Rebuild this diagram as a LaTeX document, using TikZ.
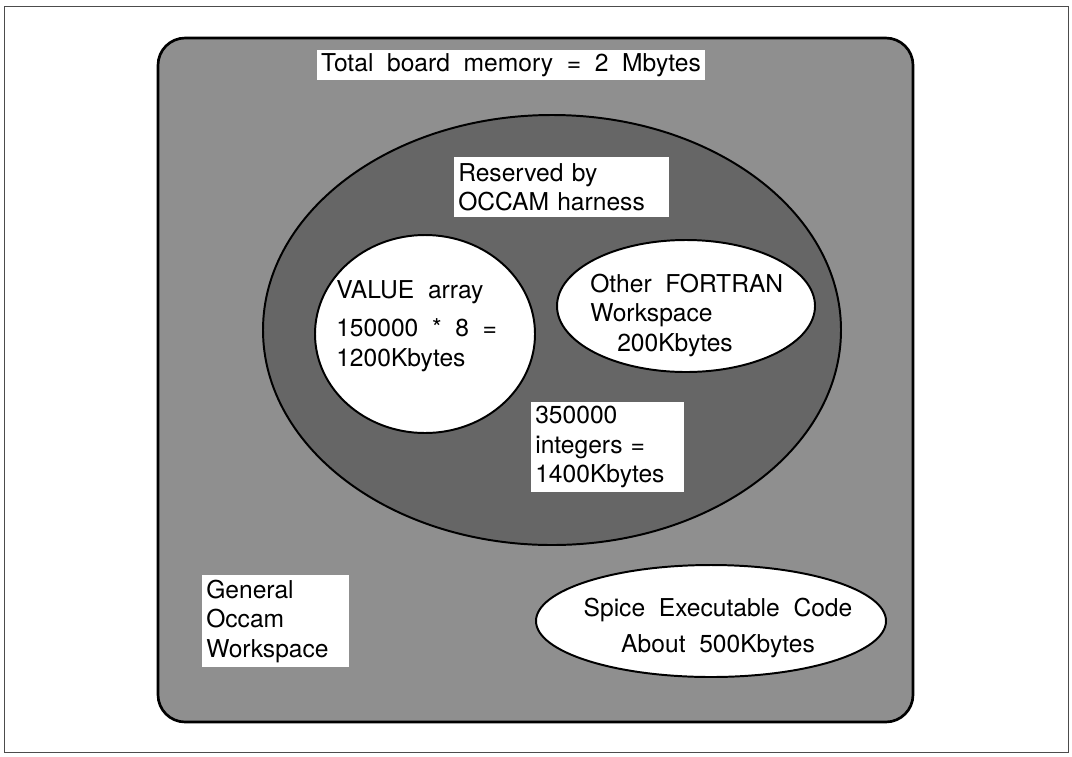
\documentclass[tikz,border=0pt]{standalone}
\usepackage{fontspec}
\setmainfont{TeX Gyre Heros}[WordSpace=2]
\usetikzlibrary{shapes.geometric,positioning}

\begin{document}
\begin{tikzpicture}[
  font=\fontsize{17.5}{21}\selectfont,
  outerframe/.style={draw=black!70,line width=0.6pt,minimum width=26.62cm,minimum height=18.65cm},
  board/.style={draw=black,line width=1.9pt,rounded corners=0.68cm,fill=black!44,minimum width=18.875cm,minimum height=17.1cm},
  region/.style={ellipse,draw=black,line width=1.4pt,inner sep=0pt},
  labelbox/.style={fill=white,inner xsep=0.1cm,inner ysep=0pt,align=left},
  plain/.style={inner sep=0pt,align=left}
]
  \useasboundingbox (0,0) rectangle (26.8,-18.9);
  \node[outerframe] (frame) at (13.41,-9.475) {};

  % board and the harness area
  \node[board] (board) at (13.3875,-9.5) {};
  \node[labelbox,minimum width=9.7cm,minimum height=0.75cm] (total) at (12.775,-1.625) {Total board memory = 2 Mbytes};
  \node[region,fill=black!60,minimum width=14.45cm,minimum height=10.75cm] (harness) at (13.8,-8.25) {};
  \node[labelbox,anchor=north west,text width=5.175cm,minimum height=1.5cm] (reserved) at (11.35,-3.925) {Reserved by\\OCCAM harness};

  % arrays inside the harness
  \node[region,fill=white,minimum width=5.5cm,minimum height=4.95cm] (value) at (10.625,-8.35) {};
  \node[plain,anchor=north west] (valuetxt) at (8.4,-7.0) {VALUE array\\[6.4pt]150000 * 8 =\\1200Kbytes};
  \node[region,fill=white,minimum width=6.45cm,minimum height=3.3cm] (fortran) at (17.15,-7.65) {};
  \node[plain,anchor=north west] (fortrantxt) at (14.75,-6.84) {Other FORTRAN\\Workspace\\\hspace{0.675cm}200Kbytes};
  \node[labelbox,anchor=north west,text width=3.625cm,minimum height=2.25cm] (integers) at (13.275,-10.05) {350000\\integers =\\1400Kbytes};

  % rest of the board
  \node[labelbox,anchor=north west,text width=3.475cm,minimum height=2.3cm] (general) at (5.05,-14.375) {General\\Occam\\Workspace};
  \node[region,fill=white,minimum width=8.75cm,minimum height=2.8cm] (spice) at (17.775,-15.525) {};
  \node[plain,align=center] (spicetxt) at (17.95,-15.7) {Spice Executable Code\\[4pt]About 500Kbytes};
\end{tikzpicture}
\end{document}
